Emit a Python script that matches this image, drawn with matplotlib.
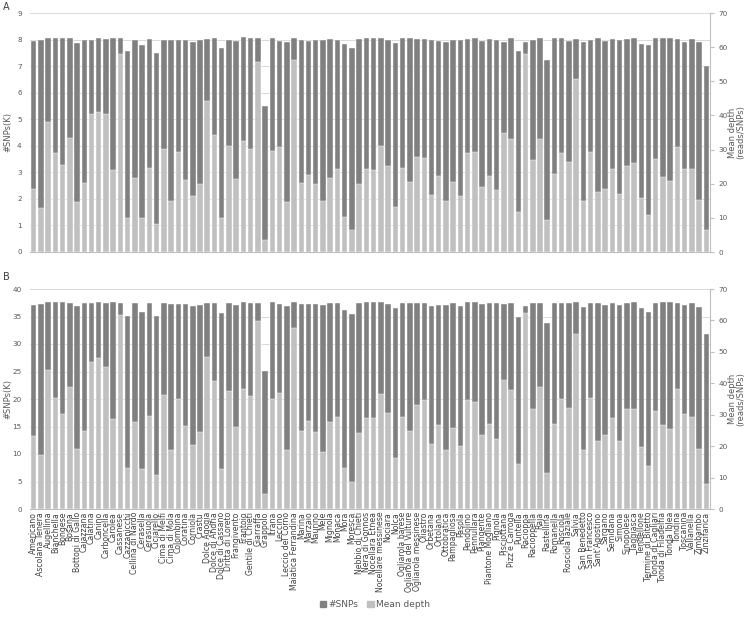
import numpy as np
import matplotlib
matplotlib.use("Agg")
import matplotlib.pyplot as plt
from matplotlib.patches import Patch

plt.rcParams["font.family"] = ["DejaVu Sans"]

cultivars = [
    "Americano", "Ascolana Tenera", "Augellina", "Bianchella", "Bongese", "Bosana",
    "Bottoni di Gallo", "Caiazzana", "Calatina", "Canino", "Carboncella", "Carolea",
    "Cassanese", "Cazzanicchi", "Cellina di Nardò", "Cerasella", "Cerasuola", "Ciciarello",
    "Cima di Melfi", "Cima di Mola", "Colombina", "Coratina", "Corniola", "Crastu",
    "Dolce Agogia", "Dolce di Andria", "Dolce di Cassano", "Dritta di Loreto", "Frangivento",
    "Frantoio", "Gentile di Chieti", "Giarraffa", "Grappolo", "Itrana", "Leccino",
    "Leccio del Corno", "Maiatica Ferrandina", "Marina", "Marzaio", "Maurino", "Mele",
    "Mignola", "Monaca", "Mora", "Moresca", "Nebbio di Chieti", "Nera di Gonnos",
    "Nocellara Etnea", "Nocellare messinese", "Nociara", "Nolca", "Ogliarola barese",
    "Ogliarola del Vulture", "Ogliarola messinese", "Oliastro", "Orbetana", "Ortolana",
    "Ottobratica", "Pampagliosa", "Pasola", "Pendolino", "Pennullara", "Piangente",
    "Piantone Mogliano", "Pignola", "Pisciottana", "Pizz'e Carroga", "Puntella", "Racioppa",
    "Racioppella", "Raja", "Rastellina", "Romanella", "Rosciola", "Rosciola laziale",
    "Salvia", "San Benedetto", "San Francesco", "Sant'Agostino", "Sargano", "Semidana",
    "Simona", "Sinopolese", "Taggiasca", "Tendellone", "Termine di Bitetto",
    "Tonda di Cagliari", "Tonda di Filadelfia", "Tonda Iblea", "Tondina", "Toscanina",
    "Vallanella", "Zimbambo", "Zinzifarica",
]

# panel A: #SNPs (K) and mean depth
snps_a = [
    7.95, 8.00, 8.04, 8.06, 8.06, 8.04, 7.88, 7.98, 7.97, 8.05, 8.02, 8.05, 8.05, 7.58,
    8.00, 7.78, 8.02, 7.51, 8.00, 7.97, 7.97, 7.97, 7.92, 7.97, 8.02, 8.07, 7.67, 8.00,
    7.95, 8.09, 8.05, 8.05, 5.50, 8.04, 7.95, 7.92, 8.06, 7.98, 7.95, 7.98, 7.98, 8.02,
    7.98, 7.82, 7.67, 8.02, 8.05, 8.05, 8.05,
    7.97, 7.88, 8.04, 8.04, 8.01, 8.01, 7.97, 7.95, 7.92, 7.98, 7.97, 8.02, 8.07, 7.95,
    8.02, 8.00, 7.89, 8.04, 7.56, 7.89, 8.00, 8.04, 7.24, 8.04, 8.04, 7.95, 8.01, 7.92,
    7.98, 8.04, 7.96, 8.01, 7.97, 8.02, 8.06, 7.83, 7.78, 8.06, 8.04, 8.06, 8.01, 7.92,
    8.01, 7.89, 7.01,
]
depth_a = [
    18.4, 13.0, 38.1, 28.9, 25.4, 33.4, 14.7, 20.3, 40.4, 41.1, 40.5, 24.0, 58.1, 9.9,
    21.7, 9.9, 24.6, 8.2, 30.2, 14.9, 29.3, 21.0, 16.3, 19.9, 44.2, 34.2, 9.9, 31.1,
    21.4, 32.6, 30.2, 55.6, 3.6, 29.6, 30.7, 14.6, 56.3, 20.2, 22.6, 19.8, 14.9, 21.7,
    24.2, 10.2, 6.3, 19.8, 24.4, 24.0, 31.1,
    25.2, 13.3, 24.6, 20.5, 27.7, 27.6, 16.8, 22.3, 14.8, 20.6, 16.3, 29.1, 29.2, 19.0,
    22.3, 18.3, 34.8, 33.0, 11.6, 58.0, 27.0, 33.2, 9.4, 22.8, 29.1, 26.4, 50.8, 14.8,
    29.3, 17.7, 18.5, 24.3, 17.1, 25.2, 26.1, 15.9, 10.9, 27.3, 22.0, 20.8, 30.8, 24.4,
    24.3, 15.3, 6.3,
]

# panel B
snps_b = [
    37.1, 37.3, 37.6, 37.6, 37.6, 37.5, 36.9, 37.4, 37.4, 37.6, 37.5, 37.6, 37.5, 35.1,
    37.4, 35.9, 37.4, 35.1, 37.4, 37.3, 37.3, 37.3, 36.9, 37.1, 37.5, 37.5, 35.6, 37.5,
    37.1, 37.7, 37.5, 37.5, 25.1, 37.6, 37.3, 37.0, 37.6, 37.3, 37.3, 37.3, 37.1, 37.5,
    37.4, 36.1, 35.5, 37.4, 37.6, 37.6, 37.7,
    37.3, 36.6, 37.5, 37.5, 37.4, 37.5, 37.0, 37.1, 37.1, 37.5, 37.0, 37.6, 37.6, 37.3,
    37.5, 37.4, 37.3, 37.5, 35.0, 37.0, 37.4, 37.5, 33.9, 37.5, 37.5, 37.4, 37.6, 36.8,
    37.4, 37.5, 37.1, 37.4, 37.1, 37.5, 37.7, 36.5, 35.9, 37.5, 37.6, 37.6, 37.5, 37.1,
    37.4, 36.8, 31.9,
]
depth_b = [
    23.3, 17.2, 44.3, 35.2, 30.3, 38.7, 19.1, 24.9, 46.9, 48.1, 45.3, 28.7, 61.6, 13.0,
    27.7, 12.6, 29.6, 10.9, 36.2, 18.9, 35.0, 26.3, 20.5, 24.5, 48.5, 40.8, 12.8, 37.5,
    26.1, 38.3, 35.9, 59.9, 4.9, 35.0, 36.8, 18.7, 57.6, 24.9, 28.0, 24.5, 18.2, 27.7,
    29.4, 13.0, 8.6, 24.3, 28.9, 28.9, 36.6,
    30.7, 16.1, 29.3, 24.8, 33.2, 34.8, 20.7, 26.6, 18.8, 25.9, 20.1, 34.8, 34.2, 23.5,
    27.1, 22.3, 41.1, 37.8, 14.3, 62.5, 31.9, 38.7, 11.6, 27.1, 35.1, 32.2, 55.8, 18.9,
    35.4, 21.6, 23.5, 29.1, 21.7, 31.9, 31.7, 19.8, 13.8, 31.3, 26.6, 25.5, 38.1, 30.3,
    29.4, 19.2, 8.0,
]

DARK = "#808080"
LIGHT = "#c0c0c0"
TXT = "#595959"
GRID = "#d9d9d9"


def panel(rect, snps, depth, ymax, ystep, show_labels):
    ax = fig.add_axes(rect)
    x = np.arange(len(cultivars))
    ax.bar(x, snps, width=0.76, color=DARK, edgecolor="white", linewidth=0.3, zorder=2)
    ax.set_xlim(-0.5, len(cultivars) - 0.5)
    ax.set_ylim(0, ymax)
    ax.set_yticks(np.arange(0, ymax + 0.1, ystep))
    ax.yaxis.grid(True, color=GRID, linewidth=0.7, zorder=0)
    ax.set_axisbelow(True)
    for s in ["top", "left", "right"]:
        ax.spines[s].set_visible(False)
    ax.spines["bottom"].set_color("#bfbfbf")
    ax.tick_params(axis="y", length=0, labelsize=5.2, labelcolor=TXT, pad=6)
    ax.set_ylabel("#SNPs(K)", fontsize=6, color=TXT)
    ax.yaxis.set_label_coords(-0.026, 0.5)
    ax.set_xticks(x)
    if show_labels:
        ax.set_xticklabels(cultivars, rotation=90, fontsize=5.6, color="#404040")
        ax.tick_params(axis="x", length=0, pad=2)
    else:
        ax.set_xticklabels([])
        ax.tick_params(axis="x", length=0)

    ax2 = ax.twinx()
    ax2.bar(x, depth, width=0.76, color=LIGHT, edgecolor="white", linewidth=0.3, zorder=3)
    ax2.set_ylim(0, 70)
    ax2.set_yticks(np.arange(0, 71, 10))
    for s in ["top", "left", "bottom"]:
        ax2.spines[s].set_visible(False)
    ax2.spines["right"].set_color("#bfbfbf")
    ax2.tick_params(axis="y", length=3, color="#bfbfbf", labelsize=5.2, labelcolor=TXT, pad=3)
    ax2.set_ylabel("Mean depth\n(reads/SNPs)", fontsize=6, color=TXT, linespacing=1.0)
    ax2.yaxis.set_label_coords(1.026, 0.5)
    return ax, ax2


fig = plt.figure(figsize=(7.5, 6.17), dpi=100)
panel([30 / 750, 1 - 252 / 617, 680 / 750, 239 / 617], snps_a, depth_a, 9, 1, False)
panel([30 / 750, 1 - 509 / 617, 680 / 750, 220 / 617], snps_b, depth_b, 40, 5, True)
fig.text(3 / 750, 1 - 2 / 617, "A", fontsize=7, color="#404040", ha="left", va="top")
fig.text(3 / 750, 1 - 272 / 617, "B", fontsize=7, color="#404040", ha="left", va="top")

handles = [Patch(color=DARK), Patch(color=LIGHT)]
fig.legend(handles, ["#SNPs", "Mean depth"], loc="lower center", bbox_to_anchor=(0.5, 0.0),
           ncol=2, frameon=False, fontsize=6.5, handlelength=0.7, handleheight=0.7,
           handletextpad=0.3, columnspacing=1.0, labelcolor=TXT)

fig.savefig("out.png", dpi=100)
